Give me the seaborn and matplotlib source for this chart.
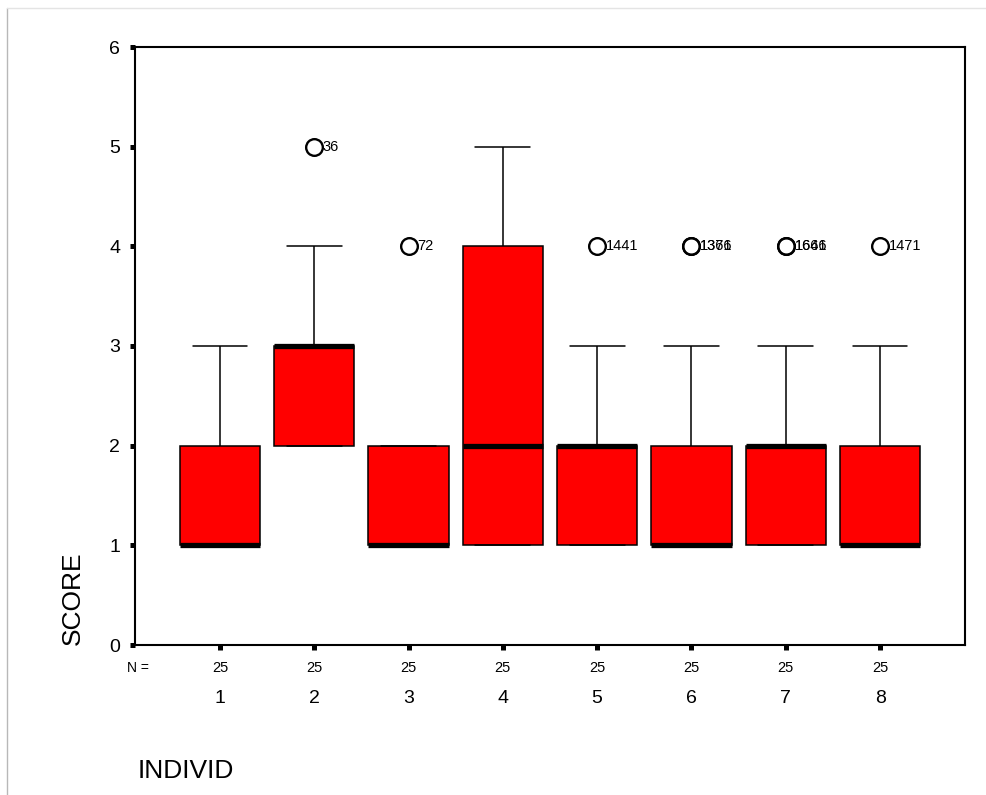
import numpy as np
import pandas as pd
import seaborn as sns
import matplotlib.pyplot as plt
from matplotlib.lines import Line2D

# Response counts for each score level, per individual
score_levels = [1, 2, 3, 4, 5]
individuals = ["1", "2", "3", "4", "5", "6", "7", "8"]
counts_ind1 = [13, 8, 4, 0, 0]
counts_ind2 = [0, 8, 13, 3, 1]
counts_ind3 = [14, 10, 0, 1, 0]
counts_ind4 = [7, 8, 3, 5, 2]
counts_ind5 = [7, 12, 5, 1, 0]
counts_ind6 = [13, 7, 3, 2, 0]
counts_ind7 = [7, 13, 3, 2, 0]
counts_ind8 = [13, 8, 3, 1, 0]
all_counts = [counts_ind1, counts_ind2, counts_ind3, counts_ind4,
              counts_ind5, counts_ind6, counts_ind7, counts_ind8]

# Case numbers of the outlying responses, per individual
outlier_cases = {
    "2": ["36"],
    "3": ["72"],
    "5": ["1441"],
    "6": ["1376", "1361"],
    "7": ["1646", "1661"],
    "8": ["1471"],
}

rows = []
for ind, cnts in zip(individuals, all_counts):
    for lvl, c in zip(score_levels, cnts):
        rows += [(ind, lvl)] * c
df = pd.DataFrame(rows, columns=["INDIVID", "SCORE"])

sns.set_style("white")
plt.rcParams["font.family"] = ["Liberation Sans", "DejaVu Sans"]
plt.rcParams["text.color"] = "black"
plt.rcParams["axes.labelcolor"] = "black"
plt.rcParams["xtick.color"] = "black"
plt.rcParams["ytick.color"] = "black"

fig = plt.figure(figsize=(9.86, 7.95), dpi=100)
ax = fig.add_axes([135 / 986, 1 - 645 / 795, 830 / 986, 598 / 795])

sns.boxplot(
    data=df, x="INDIVID", y="SCORE", order=individuals, ax=ax,
    color="#ff0000", saturation=1, width=0.85, linewidth=1.1,
    linecolor="black", whis=1.5, capwidths=0.58,
    medianprops={"linewidth": 3.8, "solid_capstyle": "butt"},
    flierprops={"marker": "o", "markersize": 12, "markerfacecolor": "none",
                "markeredgecolor": "black", "markeredgewidth": 1.7},
)

ax.set_xlim(-0.9, 7.9)
ax.set_ylim(0, 6)
ax.set_yticks(range(0, 7))
ax.set_xlabel("")
ax.set_ylabel("")

for s in ax.spines.values():
    s.set_visible(True)
    s.set_color("black")
    s.set_linewidth(1.5)

ax.tick_params(axis="both", direction="out", length=3.6, width=3.6,
               color="black", labelcolor="black", labelsize=14)
ax.tick_params(axis="y", pad=7, left=True)
ax.tick_params(axis="x", pad=29, bottom=True)

# Label each outlier with its case number
for i, ind in enumerate(individuals):
    vals = df.loc[df["INDIVID"] == ind, "SCORE"].to_numpy()
    q1, q3 = np.percentile(vals, [25, 75])
    hi = q3 + 1.5 * (q3 - q1)
    lo = q1 - 1.5 * (q3 - q1)
    out_vals = vals[(vals > hi) | (vals < lo)]
    for v, lab in zip(out_vals, outlier_cases.get(ind, [])):
        ax.annotate(lab, xy=(i, v), xytext=(6.2, 0), textcoords="offset points",
                    ha="left", va="center", fontsize=10.5, color="black")

# Group sizes under the axis
xform = ax.get_xaxis_transform()
for i, ind in enumerate(individuals):
    n = int((df["INDIVID"] == ind).sum())
    ax.annotate(str(n), xy=(i, 0), xycoords=xform, xytext=(0, -16.5),
                textcoords="offset points", ha="center", va="center",
                fontsize=10.5, color="black")
ax.annotate("N =", xy=(0.003, 0), xycoords="axes fraction", xytext=(0, -16.5),
            textcoords="offset points", ha="center", va="center", fontsize=10,
            color="black")

fig.text(73 / 986, 1 - 645 / 795, "SCORE", rotation=90, ha="center",
         va="bottom", fontsize=19, color="black")
fig.text(138 / 986, 1 - 778 / 795, "INDIVID", ha="left", va="baseline",
         fontsize=19, color="black")

# Thin frame lines along the left and top edges
fig.add_artist(Line2D([7 / 986, 7 / 986], [0, 1 - 8 / 795],
                      transform=fig.transFigure, color="#b8b8b8", lw=1))
fig.add_artist(Line2D([7 / 986, 1], [1 - 8 / 795, 1 - 8 / 795],
                      transform=fig.transFigure, color="#e4e4e4", lw=1))

fig.savefig("out.png", dpi=100)
